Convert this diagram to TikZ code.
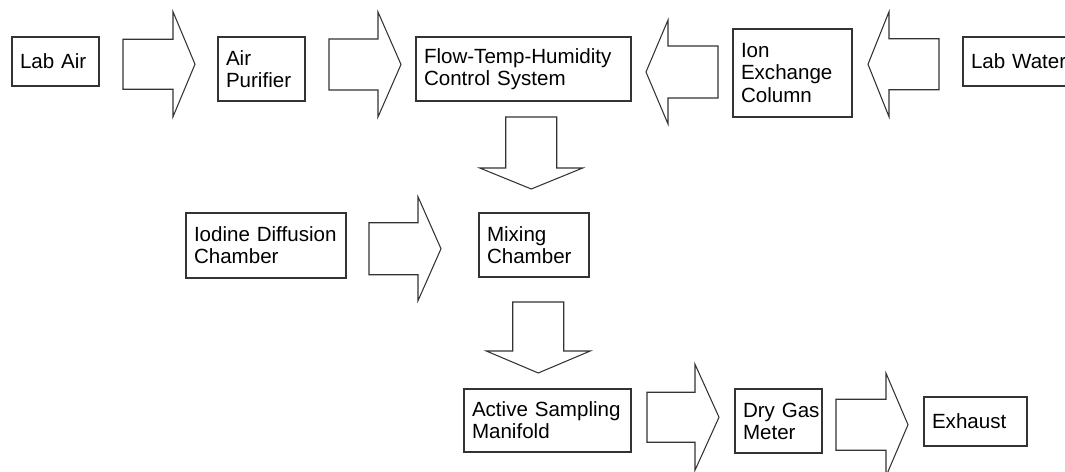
\documentclass[tikz,border=0pt]{standalone}
\usepackage{fontspec}
\setmainfont{Liberation Sans}
\usetikzlibrary{
  calc,         % Midpoints $(a)!0.5!(b)$
}
\def\px{0.02cm}  % one pixel of the layout
\tikzset{
  font=\fontsize{11.7}{12.6}\selectfont,
  x=\px,
  y=-\px,
  my line/.style={
    draw=black!80,
    line width=0.6pt
  },
  my box/.style={
    my line,
    align=left,
    inner xsep=8*\px,
    inner ysep=0mm,
    execute at begin node={\hyphenpenalty=10000\relax},
    rectangle
  },
  my size/.style 2 args={
    /utils/exec={\pgfmathsetlengthmacro\boxtw{(#1-16)*\px}},
    text width=\boxtw,
    minimum height=#2*\px
  },
  % block arrow={total length}{body length}{half body}{half head}
  pics/block arrow/.style n args={4}{
    code={
      \path[my line,fill=white,line join=miter]
        ({-#1/2},{-#3}) -- ({-#1/2+#2},{-#3}) -- ({-#1/2+#2},{-#4})
        -- ({#1/2},0) -- ({-#1/2+#2},{#4}) -- ({-#1/2+#2},{#3})
        -- ({-#1/2},{#3}) -- cycle;
    }
  }
}

\begin{document}
\begin{tikzpicture}
\clip (0,0) rectangle (1065,472);
% top row
\node[my box,my size={87}{49}]  (labair)   at (55.5,61.5)  {Lab Air};
\node[my box,my size={87}{64}]  (purifier) at (261.5,69)   {Air\\Purifier};
\node[my box,my size={215}{64}] (flow)     at (523.5,69)   {Flow-Temp-Humidity\\Control~System};
\node[my box,my size={119}{88}] (ion)      at (792.5,73)   {Ion\\Exchange\\Column};
\node[my box,my size={124}{49}] (water)    at (1025,61.5)  {Lab~Water};
% middle row
\node[my box,my size={160}{65}] (iodine)   at (266,245.5)  {Iodine~Diffusion\\Chamber};
\node[my box,my size={110}{64}] (mixing)   at (534,245)    {Mixing\\Chamber};
% bottom row
\node[my box,my size={167}{63}] (active)   at (547.5,420.5) {Active~Sampling\\Manifold};
\node[my box,my size={87}{64}]  (drygas)   at (778.5,421)  {Dry~Gas\\Meter};
\node[my box,my size={103}{49}] (exhaust)  at (975.5,421.5) {Exhaust};
% flow arrows
\pic at ($(labair.east)!0.5!(purifier.west)+(0.5,-1)$) {block arrow={72}{50}{25}{52.5}};
\pic at ($(purifier.east)!0.5!(flow.west)+(4.5,-4.5)$) {block arrow={72}{49}{25.5}{52.5}};
\pic[rotate=180] at ($(flow.east)!0.5!(ion.west)+(0,1)$) {block arrow={72}{50}{26}{52}};
\pic[rotate=180] at ($(ion.east)!0.5!(water.west)+(-4,-3)$) {block arrow={71}{50}{25.5}{52.5}};
\pic[rotate=-90] at ($(flow.south)!0.5!(mixing.north)+(2.5,-4)$) {block arrow={72}{51}{25.5}{51.5}};
\pic at ($(iodine.east)!0.5!(mixing.west)+(-7.5,3.5)$) {block arrow={72}{49}{26}{52}};
\pic[rotate=-90] at ($(mixing.south)!0.5!(active.north)+(-2.5,4.5)$) {block arrow={71}{49}{25.5}{52}};
\pic at ($(active.east)!0.5!(drygas.west)+(0,-3.5)$) {block arrow={72}{48}{25}{53}};
\pic at ($(drygas.east)!0.5!(exhaust.west)+(-1,3.5)$) {block arrow={72}{50}{25.5}{51.5}};
\end{tikzpicture}
\end{document}
